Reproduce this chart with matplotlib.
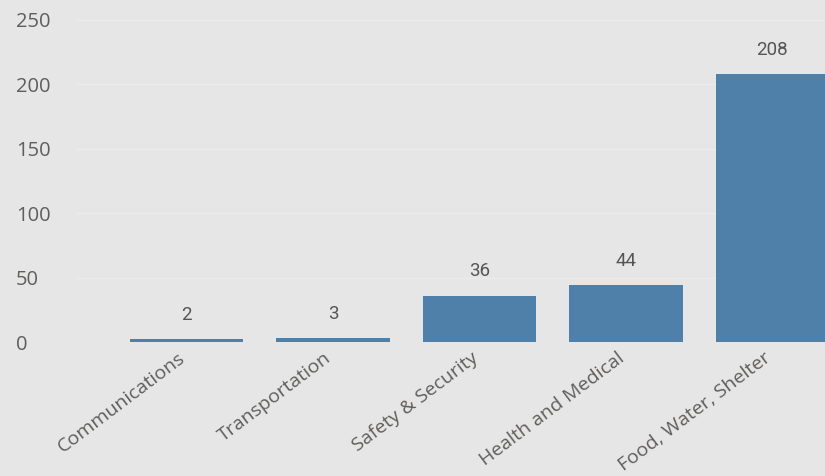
from matplotlib import pyplot as plt
from matplotlib import transforms
import numpy as np

categories = ['Communications', 'Transportation', 'Safety & Security',
              'Health and Medical', 'Food, Water, Shelter']
counts = [2, 3, 36, 44, 208]
yticks = [0, 50, 100, 150, 200, 250]

bg = '#e6e6e6'
bar_color = '#4e80aa'
text_color = '#555555'

fig = plt.figure(figsize=(8.25, 4.76), dpi=100, facecolor=bg)
ax = fig.add_axes([0.0933, 1 - 342 / 476, 1 - 0.0933, 342 / 476])
ax.set_facecolor(bg)

index = np.arange(len(categories))
bars = ax.bar(index, counts, 0.775, color=bar_color, zorder=3)

for rect, val in zip(bars, counts):
    ax.annotate(str(val), (rect.get_x() + rect.get_width() / 2, rect.get_height()),
                xytext=(0, 11), textcoords='offset points', ha='center', va='bottom',
                fontsize=13.5, color=text_color, family='Roboto')

ax.set_xlim(-0.75, 4.36)
ax.set_ylim(0, 265.5)
ax.set_yticks(yticks)
ax.set_yticklabels([str(t) for t in yticks], fontsize=14.5, color='#605e5c',
                   family='Open Sans')
ax.set_xticks(index)
ax.set_xticklabels(categories, rotation=37, ha='right', rotation_mode='anchor',
                   fontsize=14, color='#605e5c', family='Open Sans')
ax.tick_params(axis='both', length=0)
ax.tick_params(axis='y', pad=44)
ax.tick_params(axis='x', pad=5)
for lbl in ax.get_yticklabels():
    lbl.set_horizontalalignment('left')
shift = transforms.ScaledTranslation(-9 / 100, 0, fig.dpi_scale_trans)
for lbl in ax.get_xticklabels():
    lbl.set_transform(lbl.get_transform() + shift)
ax.grid(axis='y', color='#ececec', linewidth=1, zorder=0)
for s in ax.spines.values():
    s.set_visible(False)

plt.savefig('out.png', facecolor=bg)
plt.close()
